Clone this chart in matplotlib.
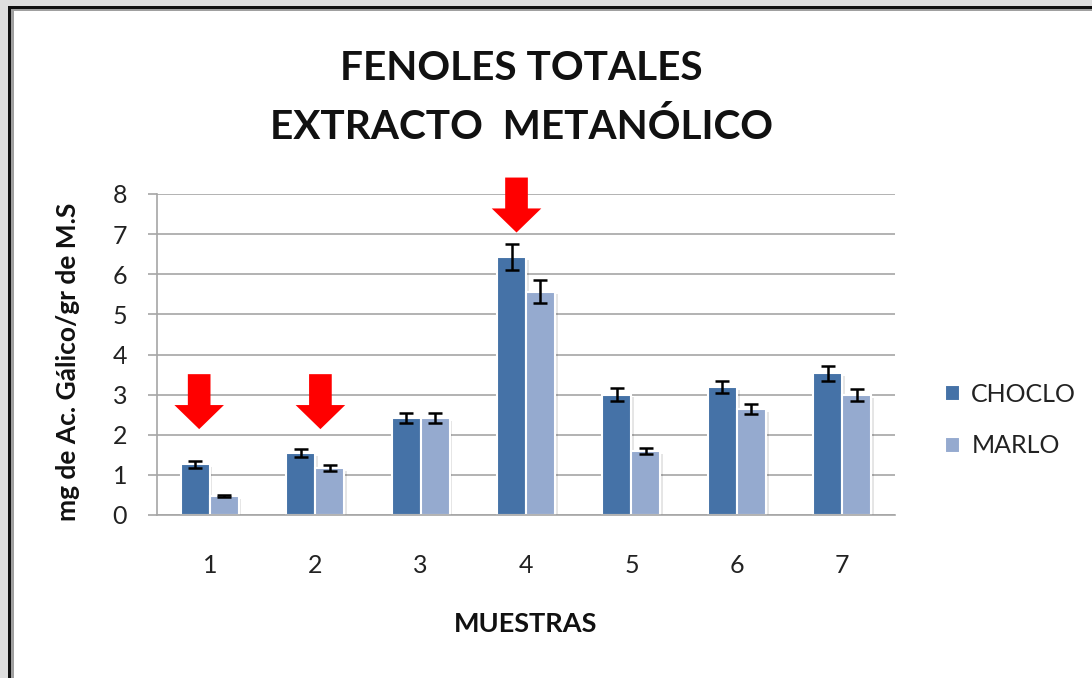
import matplotlib
matplotlib.use("Agg")
import matplotlib.pyplot as plt
import matplotlib.patheffects as pe
from matplotlib.patches import Rectangle
import numpy as np

# Data: total phenols, methanolic extract (mg gallic acid / g dry matter)
muestras = ["1", "2", "3", "4", "5", "6", "7"]
choclo = [1.26, 1.55, 2.42, 6.43, 3.00, 3.19, 3.53]
choclo_err = [0.08, 0.10, 0.12, 0.32, 0.17, 0.16, 0.19]
marlo = [0.47, 1.17, 2.41, 5.57, 1.59, 2.64, 2.98]
marlo_err = [0.03, 0.08, 0.12, 0.29, 0.07, 0.13, 0.15]

# Highlight arrows: x position (category units) and tip height (data units)
arrow_x = [-0.10, 1.05, 2.91]
arrow_tip = [2.14, 2.14, 7.04]

W, H = 1092, 678
fig = plt.figure(figsize=(W / 100, H / 100), dpi=100)
fig.patch.set_facecolor("white")

FONT = ["Lato", "DejaVu Sans"]
plt.rcParams["font.family"] = FONT

def px(x0, y0, w, h):
    return (x0 / W, 1 - (y0 + h) / H, w / W, h / H)

# window-like frame on the left and top edges
for (x0, y0, w, h, c) in [
    (0, 0, 8, H, "#dedede"), (0, 0, W, 6, "#dedede"),
    (8, 6, 3, H, "#111111"), (8, 6, W, 3, "#111111"),
    (11, 9, 3, H, "#a0a0a0"), (11, 9, W, 2, "#a0a0a0"),
]:
    l, b, ww, hh = px(x0, y0, w, h)
    fig.patches.append(Rectangle((l, b), ww, hh, transform=fig.transFigure,
                                 facecolor=c, edgecolor="none", zorder=0))

ax = fig.add_axes([157 / W, 1 - 515 / H, (895 - 157) / W, (515 - 194) / H])

x = np.arange(len(muestras))
bw = 0.275
shadow = [pe.SimplePatchShadow(offset=(2, -2), shadow_rgbFace="black", alpha=0.10), pe.Normal()]

b1 = ax.bar(x - bw / 2, choclo, bw, color="#4572A7", edgecolor="white", linewidth=1.5,
            label="CHOCLO", zorder=2)
b2 = ax.bar(x + bw / 2, marlo, bw, color="#95AACF", edgecolor="white", linewidth=1.5,
            label="MARLO", zorder=2)
for b in list(b1) + list(b2):
    b.set_path_effects(shadow)

ekw = dict(fmt="none", ecolor="black", elinewidth=1.8, capsize=4.7, capthick=1.8, zorder=4)
ax.errorbar(x - bw / 2, choclo, yerr=choclo_err, **ekw)
ax.errorbar(x + bw / 2, marlo, yerr=marlo_err, **ekw)

for ax_x, tip in zip(arrow_x, arrow_tip):
    ax.arrow(ax_x, tip + 1.37, 0, -1.37, width=0.215, head_width=0.47, head_length=0.6,
             length_includes_head=True, facecolor="#ff0000", edgecolor="none",
             clip_on=False, zorder=6)

ax.set_xlim(-0.5, len(muestras) - 0.5)
ax.set_ylim(0, 8)
ax.set_yticks(range(0, 9))
ax.set_xticks(x)
ax.set_xticklabels(muestras)

grid_c = "#a6a6a6"
ax.yaxis.grid(True, color=grid_c, linewidth=1.2)
ax.set_axisbelow(True)
for s in ["top", "right"]:
    ax.spines[s].set_visible(False)
for s in ["left", "bottom"]:
    ax.spines[s].set_color(grid_c)
    ax.spines[s].set_linewidth(1.2)

ax.tick_params(axis="y", direction="out", length=6.5, width=1.2, color=grid_c,
               labelsize=18, pad=15, labelcolor="#222222")
ax.tick_params(axis="x", length=0, labelsize=18, pad=28, labelcolor="#222222")

# titles and axis labels
fig.text(521 / W, 1 - 68 / H, "FENOLES TOTALES", ha="center", va="center",
         fontsize=29.2, fontweight="bold", color="#111111")
fig.text(521 / W, 1 - 127 / H, "EXTRACTO  METANÓLICO", ha="center", va="center",
         fontsize=29.2, fontweight="bold", color="#111111")
fig.text(526 / W, 1 - 624 / H, "MUESTRAS", ha="center", va="center",
         fontsize=19.5, fontweight="bold", color="#111111")
fig.text(68 / W, 1 - 362 / H, "mg de Ac. Gálico/gr de M.S", ha="center", va="center",
         rotation=90, fontsize=19, fontweight="bold", color="#111111")

leg = ax.legend(loc="center left", bbox_to_anchor=(945 / W, 1 - 420 / H),
                bbox_transform=fig.transFigure, frameon=False, fontsize=18,
                handlelength=0.6, handleheight=0.6, handletextpad=0.45,
                labelspacing=1.15, borderpad=0, borderaxespad=0)
for t in leg.get_texts():
    t.set_color("#222222")
for h in leg.legend_handles:
    h.set_path_effects([])

fig.savefig("out.png", dpi=100)
